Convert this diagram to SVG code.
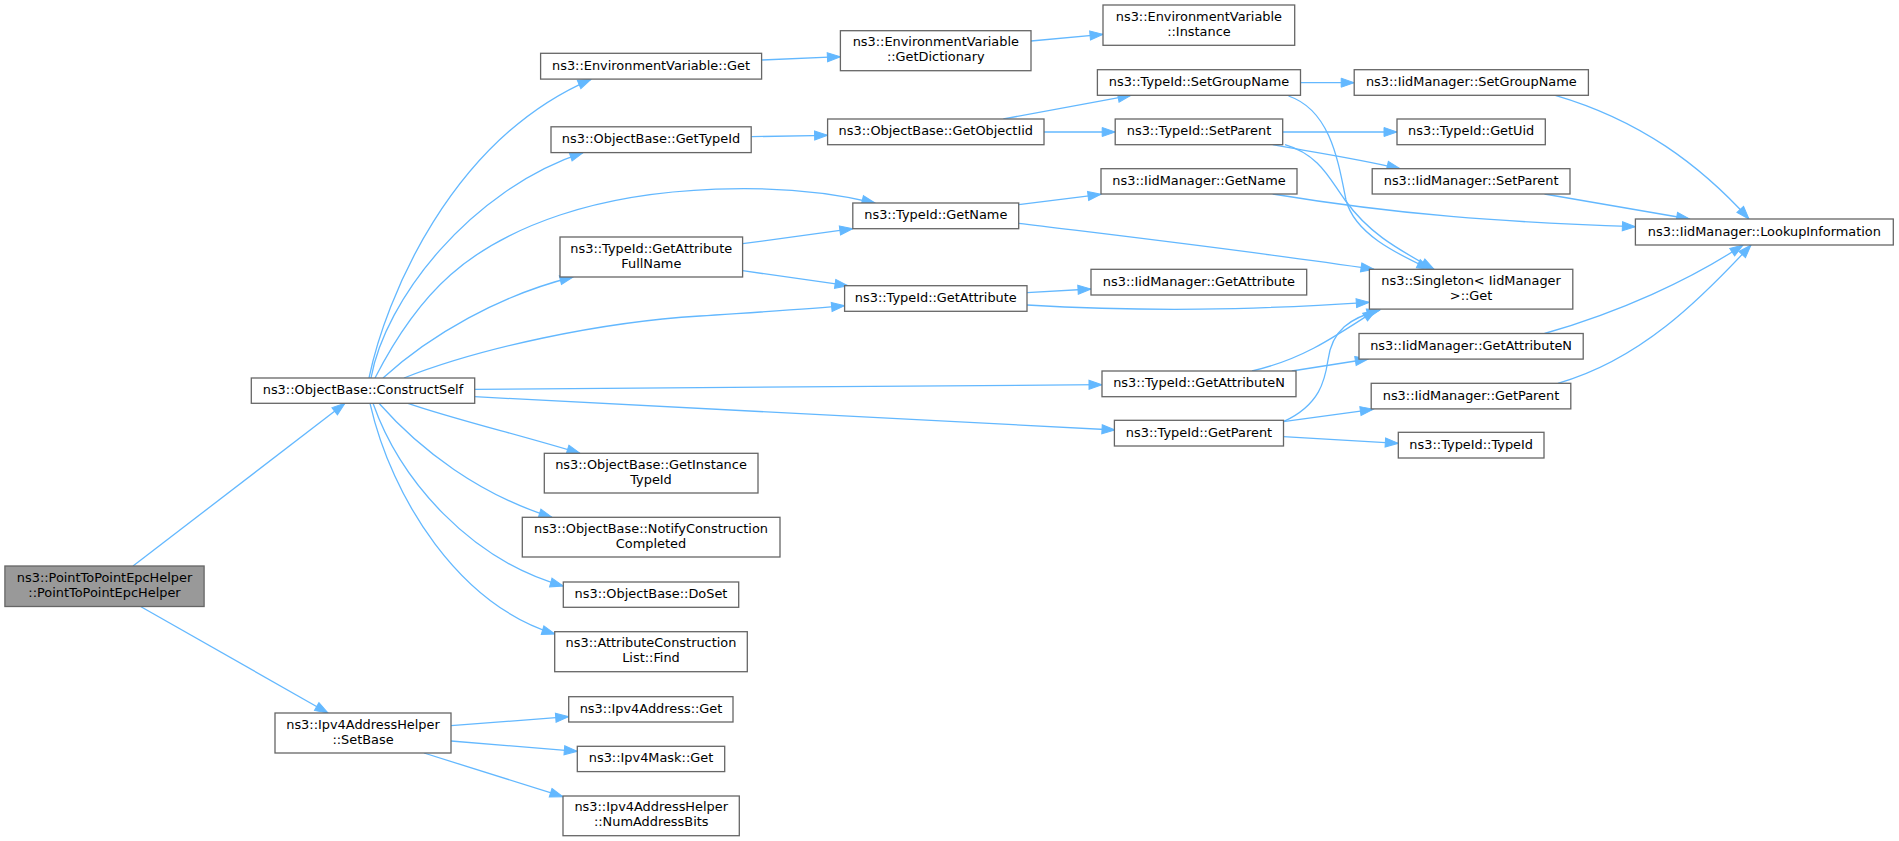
<svg xmlns="http://www.w3.org/2000/svg" width="1899" height="841" viewBox="0 0 1899 841">
<style>
.n rect{fill:#ffffff;stroke:#666666;stroke-width:1.3}
.n.root rect{fill:#999999}
.n text{font-family:"DejaVu Sans","Liberation Sans",sans-serif;font-size:12.9px;fill:#000000;text-anchor:middle}
.e path{fill:none;stroke:#63b8ff;stroke-width:1.3;marker-end:url(#ah)}
</style>
<defs>
<marker id="ah" markerUnits="userSpaceOnUse" markerWidth="16" markerHeight="12" refX="13" refY="4.5" orient="auto" overflow="visible">
<path d="M0,0 L13,4.5 L0,9 z" fill="#63b8ff" stroke="#63b8ff" stroke-width="1"/>
</marker>
</defs>
<rect width="1899" height="841" fill="#ffffff"/>
<g id="edges" class="e">
<path d="M133,566 L345,403.3"/>
<path d="M141,606.7 L328,713"/>
<path d="M369,378 C385,300 450,140 591,79.3"/>
<path d="M371,378 C385,300 470,190 583,152.7"/>
<path d="M375,378 C420,290 470,245 560,215 C650,185 780,180 875,203"/>
<path d="M383,378 C430,335 500,295 573,277"/>
<path d="M404,378 C480,348 600,322 700,316 C760,312 810,309 844.6,305.7"/>
<path d="M474.5,389.3 L1102,384.7"/>
<path d="M474.5,396.7 L1115,430"/>
<path d="M408,403.3 C450,418 520,435 580,453.3"/>
<path d="M379,403.3 C420,450 480,495 552,517.3"/>
<path d="M373,403.3 C400,480 470,560 563.3,586"/>
<path d="M370,403.3 C392,500 460,605 555,634"/>
<path d="M451,725.7 L568.7,716.7"/>
<path d="M451,741 L577.3,751.3"/>
<path d="M424,753 L563,796.7"/>
<path d="M761.7,60 L840.4,56.7"/>
<path d="M1031,41 L1103,34.3"/>
<path d="M751.3,136.7 L827.6,135.3"/>
<path d="M1003.3,119 L1131,95.3"/>
<path d="M1044,132 L1115.2,132"/>
<path d="M1018.7,204.7 L1101,194.3"/>
<path d="M1018.7,223.3 C1130,237 1250,251 1374,269.3"/>
<path d="M742.6,243.7 L852.8,228.7"/>
<path d="M742.6,270.7 L848,285.7"/>
<path d="M1027,292.7 L1091,289"/>
<path d="M1027,305 C1150,312 1250,310 1369.3,302.3"/>
<path d="M1300.5,82.7 L1354.2,82.7"/>
<path d="M1288.5,96 C1330,110 1338,160 1346,200 C1355,235 1400,255 1430,269.3"/>
<path d="M1282.7,132 L1397,132"/>
<path d="M1272.7,144.7 C1300,150 1350,157 1400,168.7"/>
<path d="M1285,144.7 C1320,155 1330,180 1345,200 C1370,235 1400,250 1434,269.3"/>
<path d="M1272.7,194 C1400,215 1500,222 1635.4,226.7"/>
<path d="M1555.2,95.3 C1640,120 1700,165 1749,219"/>
<path d="M1544.5,194 L1689.6,219"/>
<path d="M1544.5,333.5 C1620,312 1690,280 1743,245"/>
<path d="M1557.9,383.3 C1640,360 1700,300 1751,245"/>
<path d="M1252,371 C1300,360 1330,340 1376,310"/>
<path d="M1291.8,371 L1368.3,359"/>
<path d="M1283.3,421.7 C1320,405 1325,380 1328,360 C1332,330 1350,318 1380,310"/>
<path d="M1283.3,421.7 L1373.3,409.3"/>
<path d="M1283.3,436.7 L1398.3,443.3"/>
</g>
<g id="n_root" class="n root"><rect x="4.9" y="566" width="199.2" height="40.5"/><text x="104.5" y="581.8">ns3::PointToPointEpcHelper</text><text x="104.5" y="596.8">::PointToPointEpcHelper</text></g>
<g id="n_constructself" class="n"><rect x="251.3" y="378" width="223.4" height="25.3"/><text x="363" y="394.2">ns3::ObjectBase::ConstructSelf</text></g>
<g id="n_setbase" class="n"><rect x="275" y="713" width="176" height="40"/><text x="363" y="728.5">ns3::Ipv4AddressHelper</text><text x="363" y="743.5">::SetBase</text></g>
<g id="n_envget" class="n"><rect x="540.6" y="53.3" width="221" height="25.8"/><text x="651" y="69.7">ns3::EnvironmentVariable::Get</text></g>
<g id="n_gettypeid" class="n"><rect x="551" y="126.8" width="200.2" height="25.8"/><text x="651" y="143.2">ns3::ObjectBase::GetTypeId</text></g>
<g id="n_getattrfullname" class="n"><rect x="560" y="237" width="182.6" height="40"/><text x="651.3" y="252.5">ns3::TypeId::GetAttribute</text><text x="651.3" y="267.5">FullName</text></g>
<g id="n_getinstancetypeid" class="n"><rect x="544.3" y="453.3" width="213.7" height="39.7"/><text x="651" y="468.7">ns3::ObjectBase::GetInstance</text><text x="651" y="483.7">TypeId</text></g>
<g id="n_notify" class="n"><rect x="522.3" y="517.3" width="257.7" height="39.7"/><text x="651" y="532.7">ns3::ObjectBase::NotifyConstruction</text><text x="651" y="547.7">Completed</text></g>
<g id="n_doset" class="n"><rect x="563.3" y="582" width="175.4" height="25.3"/><text x="651" y="598.1">ns3::ObjectBase::DoSet</text></g>
<g id="n_find" class="n"><rect x="554.7" y="631.7" width="192.6" height="40"/><text x="651" y="647.2">ns3::AttributeConstruction</text><text x="651" y="662.2">List::Find</text></g>
<g id="n_ipv4addrget" class="n"><rect x="568.7" y="696.7" width="164.3" height="25.3"/><text x="651" y="712.8">ns3::Ipv4Address::Get</text></g>
<g id="n_ipv4maskget" class="n"><rect x="577.3" y="746.3" width="147.4" height="25.3"/><text x="651" y="762.4">ns3::Ipv4Mask::Get</text></g>
<g id="n_numaddressbits" class="n"><rect x="563" y="796" width="176.3" height="39.7"/><text x="651.2" y="811.4">ns3::Ipv4AddressHelper</text><text x="651.2" y="826.4">::NumAddressBits</text></g>
<g id="n_getdictionary" class="n"><rect x="840.4" y="30.7" width="190.6" height="40"/><text x="935.8" y="46.2">ns3::EnvironmentVariable</text><text x="935.8" y="61.2">::GetDictionary</text></g>
<g id="n_getobjectiid" class="n"><rect x="827.6" y="119" width="216.4" height="25.7"/><text x="935.8" y="135.4">ns3::ObjectBase::GetObjectIid</text></g>
<g id="n_typeid_getname" class="n"><rect x="852.8" y="203" width="165.9" height="25.7"/><text x="935.8" y="219.4">ns3::TypeId::GetName</text></g>
<g id="n_typeid_getattribute" class="n"><rect x="844.6" y="285.7" width="182.4" height="25.6"/><text x="935.8" y="302">ns3::TypeId::GetAttribute</text></g>
<g id="n_instance" class="n"><rect x="1103" y="5" width="191.7" height="40.3"/><text x="1198.9" y="20.7">ns3::EnvironmentVariable</text><text x="1198.9" y="35.7">::Instance</text></g>
<g id="n_typeid_setgroupname" class="n"><rect x="1097.4" y="69.7" width="203.1" height="25.6"/><text x="1199" y="86">ns3::TypeId::SetGroupName</text></g>
<g id="n_typeid_setparent" class="n"><rect x="1115.2" y="119" width="167.5" height="25.7"/><text x="1199" y="135.4">ns3::TypeId::SetParent</text></g>
<g id="n_iid_getname" class="n"><rect x="1101" y="168.7" width="196" height="25.3"/><text x="1199" y="184.9">ns3::IidManager::GetName</text></g>
<g id="n_iid_getattribute" class="n"><rect x="1091" y="269.3" width="215.7" height="25.7"/><text x="1198.9" y="285.7">ns3::IidManager::GetAttribute</text></g>
<g id="n_typeid_getattributen" class="n"><rect x="1102" y="371" width="194" height="25.7"/><text x="1199" y="387.4">ns3::TypeId::GetAttributeN</text></g>
<g id="n_typeid_getparent" class="n"><rect x="1114.4" y="420.3" width="169.1" height="25.7"/><text x="1199" y="436.7">ns3::TypeId::GetParent</text></g>
<g id="n_iid_setgroupname" class="n"><rect x="1354.2" y="69.7" width="234.2" height="25.6"/><text x="1471.3" y="86">ns3::IidManager::SetGroupName</text></g>
<g id="n_typeid_getuid" class="n"><rect x="1397" y="119" width="148.3" height="25.7"/><text x="1471.2" y="135.4">ns3::TypeId::GetUid</text></g>
<g id="n_iid_setparent" class="n"><rect x="1372.2" y="168.7" width="197.8" height="25.3"/><text x="1471.1" y="184.9">ns3::IidManager::SetParent</text></g>
<g id="n_singleton" class="n"><rect x="1369.4" y="269.3" width="203.4" height="39.8"/><text x="1471.1" y="284.7">ns3::Singleton&lt; IidManager</text><text x="1471.1" y="299.7">&gt;::Get</text></g>
<g id="n_iid_getattributen" class="n"><rect x="1359" y="333.5" width="224.2" height="25.6"/><text x="1471.1" y="349.8">ns3::IidManager::GetAttributeN</text></g>
<g id="n_iid_getparent" class="n"><rect x="1371.2" y="383.3" width="199.6" height="25.6"/><text x="1471" y="399.6">ns3::IidManager::GetParent</text></g>
<g id="n_typeid_typeid" class="n"><rect x="1398.3" y="432.3" width="145.7" height="25.7"/><text x="1471.2" y="448.7">ns3::TypeId::TypeId</text></g>
<g id="n_lookupinformation" class="n"><rect x="1635.4" y="219" width="257.9" height="26"/><text x="1764.4" y="235.5">ns3::IidManager::LookupInformation</text></g>
</svg>
